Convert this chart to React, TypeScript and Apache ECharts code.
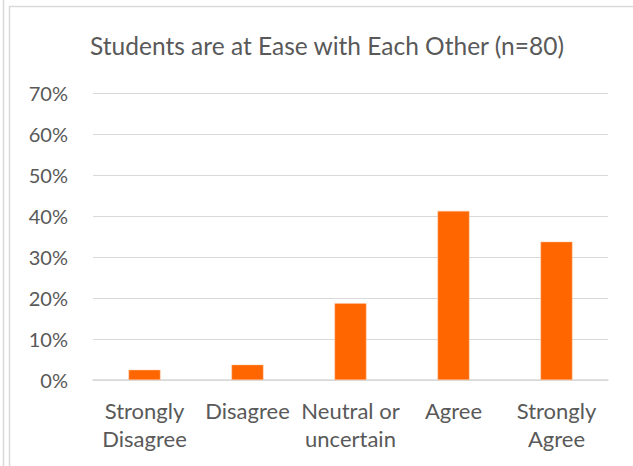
import React, { useEffect, useRef } from "react";
import * as echarts from "echarts";

const categories = ["Strongly\nDisagree", "Disagree", "Neutral or\nuncertain", "Agree", "Strongly\nAgree"];
const percentValues = [2.5, 3.75, 18.75, 41.25, 33.75];
const titleText = "Students are at Ease with Each Other (n=80)";

export default function App() {
  const ref = useRef<HTMLDivElement>(null);
  useEffect(() => {
    if (!ref.current) return;
    const chart = echarts.init(ref.current, null, { renderer: "svg" });
    const font = "Lato, 'Open Sans', sans-serif";
    chart.setOption({
      animation: false,
      backgroundColor: "#ffffff",
      title: {
        text: titleText,
        left: 322,
        textAlign: "center",
        top: 28,
        textStyle: { color: "#595959", fontSize: 24.5, fontWeight: "normal", fontFamily: font },
      },
      graphic: [
        { type: "line", shape: { x1: 3.5, y1: 0, x2: 3.5, y2: 466 }, style: { stroke: "#d9d9d9", lineWidth: 1.5 } },
        { type: "rect", shape: { x: 9.5, y: 6.5, width: 700, height: 500 }, style: { fill: "none", stroke: "#d9d9d9", lineWidth: 1.5 } },
      ],
      grid: { left: 93, right: 25, top: 93, bottom: 86, containLabel: false },
      xAxis: {
        type: "category",
        data: categories,
        axisLine: { lineStyle: { color: "#d9d9d9", width: 1.5 } },
        axisTick: { show: false },
        axisLabel: {
          color: "#595959",
          fontSize: 22,
          fontFamily: font,
          lineHeight: 28,
          margin: 16,
          interval: 0,
        },
      },
      yAxis: {
        type: "value",
        min: 0,
        max: 70,
        interval: 10,
        axisLine: { show: false },
        axisTick: { show: false },
        splitLine: { lineStyle: { color: "#d9d9d9", width: 1.2 } },
        axisLabel: {
          color: "#595959",
          fontSize: 20,
          fontFamily: font,
          margin: 25,
          formatter: (v: number) => v + "%",
        },
      },
      series: [
        {
          type: "bar",
          data: percentValues,
          barWidth: "31%",
          itemStyle: { color: "#ff6600", borderColor: "#ffc8a0", borderWidth: 0.5 },
        },
      ],
    });
    return () => chart.dispose();
  }, []);
  return <div ref={ref} style={{ position: "fixed", left: 0, top: 0, width: 633, height: 466 }} />;
}
